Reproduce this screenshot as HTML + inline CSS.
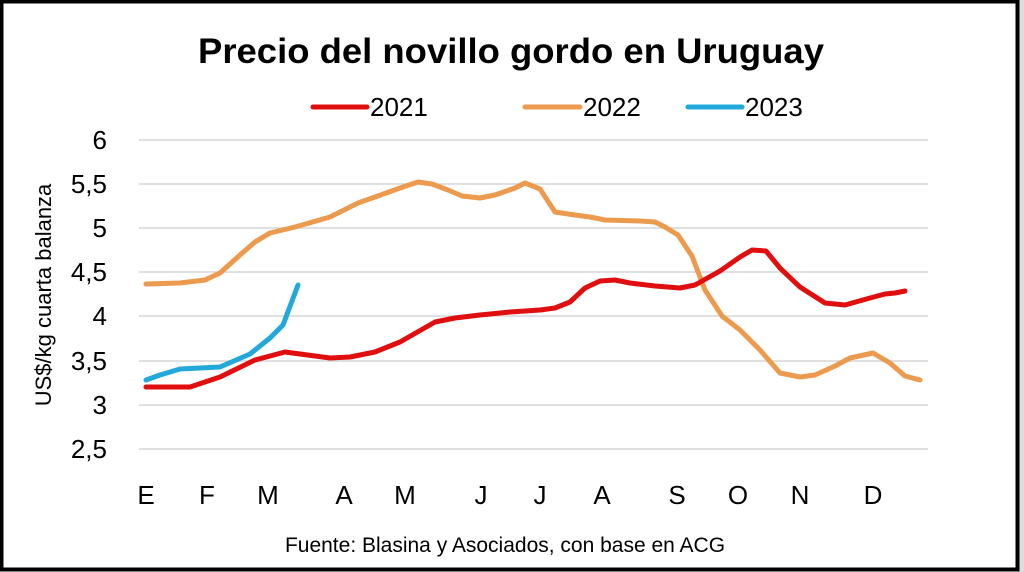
<!DOCTYPE html>
<html><head><meta charset="utf-8"><style>
body{margin:0;background:#fff;}
svg{display:block;font-family:"Liberation Sans",sans-serif;}
</style></head><body>
<svg width="1024" height="572" viewBox="0 0 1024 572">
<rect x="0" y="0" width="1024" height="572" fill="#fff"/>
<rect x="1018" y="0" width="6" height="572" fill="#ddd"/>
<rect x="1.5" y="1.5" width="1016" height="568" fill="none" stroke="#000" stroke-width="4"/>
<text x="511" y="63" text-anchor="middle" font-size="35" font-weight="bold" textLength="626" lengthAdjust="spacingAndGlyphs">Precio del novillo gordo en Uruguay</text>
<g font-size="26" fill="#000">
<line x1="313" y1="107" x2="367" y2="107" stroke="#e00e0e" stroke-width="5" stroke-linecap="round"/>
<text x="370" y="116">2021</text>
<line x1="525" y1="107" x2="580" y2="107" stroke="#ec9a4e" stroke-width="5" stroke-linecap="round"/>
<text x="583" y="116">2022</text>
<line x1="688" y1="107" x2="742" y2="107" stroke="#23a8dc" stroke-width="5" stroke-linecap="round"/>
<text x="745" y="116">2023</text>
</g>
<g stroke="#d6d6d6" stroke-width="1.5">
<line x1="139" y1="140" x2="928" y2="140"/><line x1="139" y1="184" x2="928" y2="184"/>
<line x1="139" y1="228" x2="928" y2="228"/><line x1="139" y1="272" x2="928" y2="272"/>
<line x1="139" y1="316" x2="928" y2="316"/><line x1="139" y1="361" x2="928" y2="361"/>
<line x1="139" y1="405" x2="928" y2="405"/><line x1="139" y1="449" x2="928" y2="449"/>
</g>
<g font-size="26" text-anchor="end">
<text x="107" y="149">6</text><text x="107" y="193">5,5</text><text x="107" y="237">5</text>
<text x="107" y="281">4,5</text><text x="107" y="325">4</text><text x="107" y="370">3,5</text>
<text x="107" y="414">3</text><text x="107" y="458">2,5</text>
</g>
<text transform="translate(51,295) rotate(-90)" text-anchor="middle" font-size="22">US$/kg cuarta balanza</text>
<g font-size="26" text-anchor="middle">
<text x="146" y="504">E</text><text x="207" y="504">F</text><text x="268" y="504">M</text>
<text x="344" y="504">A</text><text x="405" y="504">M</text><text x="481" y="504">J</text>
<text x="540" y="504">J</text><text x="602" y="504">A</text><text x="677" y="504">S</text>
<text x="738" y="504">O</text><text x="800" y="504">N</text><text x="873" y="504">D</text>
</g>
<text x="505" y="552" text-anchor="middle" font-size="21">Fuente: Blasina y Asociados, con base en ACG</text>
<g fill="none" stroke-width="5" stroke-linejoin="round" stroke-linecap="round">
<polyline stroke="#ec9a4e" points="146,284 180,283 205,280 220,273 240,255 255,242 270,233 295,227 330,217 358,203 375,197 400,188 418,182 432,184 448,190 462,196 480,198 495,195 515,188 525,183 540,189 555,212 575,215 590,217 605,220 640,221 655,222 665,227 678,235 692,256 705,290 722,316 740,330 760,350 780,373 800,377 815,375 835,366 850,358 873,353 890,363 905,376 920,380"/>
<polyline stroke="#e00e0e" points="146,387 190,387 220,377 255,360 285,352 300,354 330,358 350,357 375,352 400,342 435,322 455,318 480,315 510,312 540,310 555,308 570,302 585,288 600,281 615,280 630,283 655,286 680,288 695,285 720,271 740,257 752,250 766,251 780,268 800,287 825,303 845,305 870,298 885,294 895,293 905,291"/>
<polyline stroke="#23a8dc" points="146,380 160,375 180,369 200,368 220,367 250,354 270,338 283,325 298,285"/>
</g>
</svg>
</body></html>
